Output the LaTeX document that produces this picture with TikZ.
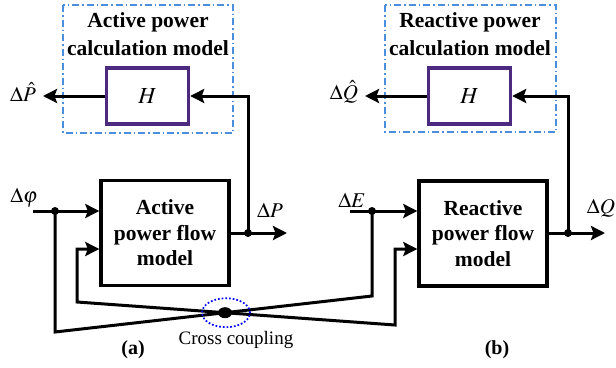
\documentclass[tikz,border=0pt]{standalone}
\usepackage{mathptmx}
\usepackage{fontspec}
\setmainfont{Liberation Serif}
\usetikzlibrary{arrows.meta,shapes.geometric}
\definecolor{dashblue}{HTML}{4A8FDB}
\definecolor{hpurple}{HTML}{4B2A80}
\begin{document}
\begin{tikzpicture}[x=1pt,y=-1pt,
  conn/.style={line width=3pt},
  tip/.tip={Stealth[length=14pt,width=14pt,inset=2.5pt]},
  arr/.style={conn,-tip},
  biarr/.style={conn,tip-tip},
  calcbox/.style={draw=dashblue,line width=1.3pt,dash pattern=on 7pt off 3pt on 1.5pt off 3pt},
  hbox/.style={draw=hpurple,line width=3.4pt,minimum width=82pt,minimum height=56pt,inner sep=0pt,font=\fontsize{23}{23}\selectfont},
  modelbox/.style={draw,line width=3.4pt,minimum width=128pt,minimum height=105pt,inner sep=0pt,align=center,font=\fontsize{21.5}{25.5}\selectfont\bfseries},
  title/.style={align=center,font=\fontsize{21.5}{28}\selectfont\bfseries},
  lbl/.style={inner sep=0pt,font=\fontsize{21}{21}\selectfont},
  jdot/.style={circle,fill,inner sep=0pt,minimum size=8pt},
]
\useasboundingbox (0,0) rectangle (616,367);

% calculation model frames
\draw[calcbox] (63,5) rectangle (233,133);
\draw[calcbox] (385,5) rectangle (556,132);
\node[title] (t1) at (148,34) {Active power\\calculation model};
\node[title] (t2) at (470,34) {Reactive power\\calculation model};

% H blocks
\node[hbox] (h1) at (147.5,96) {$H$};
\node[hbox] (h2) at (469.5,96) {$H$};

% model blocks
\node[modelbox] (a) at (165,233) {Active\\power flow\\model};
\node[modelbox] (r) at (483,233.5) {Reactive\\power flow\\model};

% coordinates
\coordinate (php) at (43,96);
\coordinate (qhp) at (365,96);
\coordinate (jP) at (248,233);
\coordinate (Pout) at (287,233);
\coordinate (jQ) at (568,233);
\coordinate (Qout) at (605,233);
\coordinate (phin) at (33,211);
\coordinate (jphi) at (55,211);
\coordinate (Ein) at (350,211);
\coordinate (jE) at (372,211);
\coordinate (a2) at (101,249);
\coordinate (r2) at (419,249);
\coordinate (ca) at (77,302);
\coordinate (cb) at (395,325);
\coordinate (cc) at (55,332);
\coordinate (cd) at (372,296);

% outputs of H
\draw[arr] (h1.west) -- (php);
\draw[arr] (h2.west) -- (qhp);
\node[lbl] (lph) at (23,92) {$\Delta\hat{P}$};
\node[lbl] (lqh) at (344,92) {$\Delta\hat{Q}$};

% feedback
\draw[arr] (jP) |- (h1.east);
\draw[arr] (jQ) |- (h2.east);

% model outputs
\draw[arr] (a.east |- jP) -- (Pout);
\draw[arr] (r.east |- jQ) -- (Qout);
\node[jdot] (dP) at (jP) {};
\node[jdot] (dQ) at (jQ) {};
\node[lbl] (lP) at (270,210) {$\Delta P$};
\node[lbl] (lQ) at (601,208) {$\Delta Q$};

% inputs
\draw[arr] (phin) -- (a.west |- phin);
\draw[arr] (Ein) -- (r.west |- Ein);
\node[jdot] (dphi) at (jphi) {};
\node[jdot] (dE) at (jE) {};
\node[lbl] (lphi) at (24,198) {$\Delta\varphi$};
\node[lbl] (lE) at (352,200) {$\Delta E$};

% cross coupling
\draw[conn,line join=miter] (jphi) -- (cc) -- (cd) -- (jE);
\draw[biarr,line join=miter] (a.west |- a2) -| (ca) -- (cb) |- (r.west |- r2);
\node[ellipse,fill,inner sep=0pt,minimum width=14pt,minimum height=11pt] (xd) at (225,312.7) {};
\node[ellipse,draw=blue,dotted,line width=1.7pt,minimum width=48pt,minimum height=29pt] (xe) at (226,312.7) {};
\node[lbl,font=\fontsize{19}{19}\selectfont] (lx) at (236,340) {Cross coupling};

% sub-figure labels
\node[lbl,font=\fontsize{20}{20}\selectfont\bfseries] (la) at (133,350) {(a)};
\node[lbl,font=\fontsize{20}{20}\selectfont\bfseries] (lb) at (497,350) {(b)};
\end{tikzpicture}
\end{document}
